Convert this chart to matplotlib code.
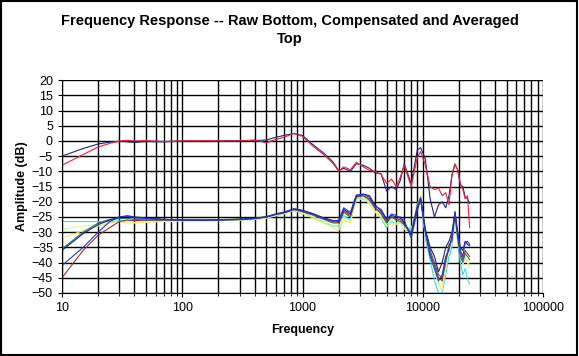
import matplotlib.pyplot as plt
import matplotlib.ticker as mticker
from matplotlib.patches import Rectangle

plt.rcParams['font.family'] = ['Liberation Sans', 'DejaVu Sans']

freq = [10, 15, 20, 25, 30, 35, 40, 50, 70, 100,
        150, 200, 300, 400, 500, 600, 700, 850, 1000, 1200, 1500, 1800,
        2000, 2200, 2500, 2800, 3200, 3600, 4000, 4500, 5000, 5500, 6000,
        6500, 7000, 8000, 9000, 9600, 10500, 11500, 12500, 13500, 14500,
        15500, 16500, 17500, 18500, 19500, 20500, 21500, 22500, 23500, 24500]

# raw bottom (top pair of curves)
raw_red = [-8, -4.5, -2, -0.8, 0, 0.2, 0, 0.1, -0.2, 0,
           0.1, 0, 0, 0.3, -0.6, 0.5, 1.2, 2.5, 1.5, -1.5, -4.5, -7.5,
           -10, -8.5, -9.5, -7, -8.5, -9.7, -10, -11, -14, -12.5, -15,
           -12, -8, -15, -5.5, -3.5, -8, -15, -16, -15.5, -18,
           -17, -21, -11, -7.5, -9.5, -14, -16, -19, -18, -28.5]
raw_navy = [-5, -2.5, -1, -0.4, -0.1, -0.3, -0.5, -0.2, -0.3, 0,
            -0.1, 0, 0.1, 0.1, 0.3, 1.2, 1.8, 2.4, 1.8, -1, -4, -7,
            -9.8, -9, -10, -7.5, -8, -9, -10.5, -10.8, -16.5, -15, -16,
            -13, -7.5, -14, -3, -2.2, -6, -19, -25, -21, -20,
            -22, -18, -11, -7.8, -9.5, -14.5, -15, -18.5, -19, -20.5]

# compensated and averaged top (lower group)
comp_navy = [-36, -30.5, -27.5, -26, -25, -24.6, -25, -25.3, -25.8, -26,
             -26, -25.9, -25.7, -25.4, -24.9, -24, -23.4, -22.3, -22.8, -23.8, -25.3, -26.2,
             -26.5, -22.5, -24, -18, -17.5, -18, -21, -23, -25.5, -24.5, -25,
             -25, -27, -31, -22, -19.5, -29, -35, -38, -43, -40,
             -35, -33, -30, -23.5, -30, -35, -36, -33, -34, -34.5]
comp_blue = [-41, -35, -30, -26.5, -25, -24.8, -25.3, -25.5, -25.8, -26,
             -26, -26, -25.8, -25.5, -25, -24.1, -23.5, -22.4, -23, -23.9, -25.4, -26.4,
             -26, -22, -23.5, -17.8, -17.5, -18.5, -21.5, -22.5, -26, -24, -24.5,
             -25.5, -26, -32, -23, -19, -30, -38, -42, -46, -44,
             -38, -36, -31, -23.2, -31, -36, -38, -33.5, -33, -34]
comp_teal = [-35.5, -30, -27, -25.8, -25.5, -25.5, -25.8, -26, -26, -26,
             -26.1, -26, -25.9, -25.6, -25.1, -24.2, -23.7, -22.6, -23.3, -24.3, -25.8, -27,
             -27, -23.5, -25, -18.5, -18, -19.5, -22, -24, -27, -25, -26,
             -26.5, -27.5, -30, -21, -18.5, -30, -36, -40, -44, -45,
             -40, -34, -33, -24, -32, -38, -40, -37, -38, -39]
comp_cyan = [-26.5, -26.5, -26.5, -26.5, -26.3, -26.3, -26.2, -26.2, -26.1, -26,
             -26.2, -26.2, -26, -25.8, -25.3, -24.5, -24, -22.9, -23.8, -25, -26.6, -28,
             -28, -24.5, -26, -19, -19, -20.5, -23, -25.5, -28.5, -26.5, -27,
             -27, -28, -29, -22, -19, -32, -39, -46, -50, -50,
             -44, -38, -35, -25, -33, -40, -44, -42, -45.5, -47]
comp_yellow = [-32, -29.5, -28, -27, -26.5, -27, -27, -26.8, -26.5, -26.3,
               -26.3, -26.2, -26, -25.8, -25.4, -24.6, -24, -22.8, -23.9, -25.2, -27, -28.5,
               -29.5, -26, -27, -19.5, -19, -20.5, -23.5, -25, -28, -27, -27.5,
               -26.5, -29, -30, -21, -18, -31, -37, -43, -47, -49,
               -42, -35, -34, -25, -30, -37, -41, -38, -39, -41]
comp_green = [-29, -28, -27.5, -27, -26.5, -26.5, -26.8, -26.5, -26.3, -26.2,
              -26.2, -26.1, -26, -25.7, -25.2, -24.4, -23.8, -22.7, -23.6, -24.8, -26.4, -27.8,
              -28.5, -25, -26.5, -19, -18.5, -20, -23, -25, -27.5, -26, -27,
              -27, -28.5, -29.5, -21.5, -18.8, -31, -37, -42, -46, -47,
              -41, -36, -34, -24.5, -31, -38, -40, -38.5, -40, -42]
comp_brown = [-45, -36, -31, -28.5, -26.5, -26, -26.2, -26, -26, -26,
              -26, -26, -25.8, -25.5, -25, -24.1, -23.6, -22.5, -23.2, -24.1, -25.6, -26.6,
              -26.8, -23, -24.5, -18.3, -18, -19, -22, -23.5, -26.5, -25, -25.5,
              -26, -27.2, -31, -22, -19, -30, -37, -41, -45, -46,
              -39, -35, -32, -23.8, -31, -37, -39, -36, -37, -38]

lower = [(comp_cyan, '#33ddee'), (comp_green, '#ccffaa'), (comp_yellow, '#eeee66'),
         (comp_teal, '#227777'), (comp_brown, '#993333'), (comp_navy, '#222277'),
         (comp_blue, '#2233dd')]

fig = plt.figure(figsize=(5.79, 3.56), dpi=100)
ax = fig.add_axes([0.107, 0.177, 0.831, 0.598])

for vals, col in lower:
    ax.plot(freq, vals, color=col, lw=0.8)
ax.plot(freq, raw_navy, color='#222288', lw=0.8)
ax.plot(freq, raw_red, color='#ee2233', lw=0.8)

ax.set_xscale('log')
ax.set_xlim(10, 100000)
ax.set_ylim(-50, 20)
ax.set_yticks(range(-50, 21, 5))
ax.xaxis.set_major_formatter(mticker.FuncFormatter(lambda v, p: '%d' % v))
ax.xaxis.set_minor_locator(mticker.LogLocator(base=10, subs=range(2, 10)))
ax.xaxis.set_minor_formatter(mticker.NullFormatter())
ax.grid(True, which='both', color='black', lw=1.0)
ax.set_axisbelow(True)
ax.tick_params(axis='both', which='major', labelsize=9, length=3, direction='out')
ax.tick_params(axis='x', which='minor', length=2)
for s in ['top', 'right']:
    ax.spines[s].set_visible(False)

ax.set_xlabel('Frequency', fontsize=9, fontweight='bold', labelpad=7)
ax.set_ylabel('Amplitude (dB)', fontsize=9, fontweight='bold', labelpad=3)
fig.text(0.5, 0.915, 'Frequency Response -- Raw Bottom, Compensated and Averaged\nTop',
         ha='center', va='center', fontsize=10.5, fontweight='bold', linespacing=1.35)

fig.patches.append(Rectangle((0.002, 0.003), 0.995, 0.994, transform=fig.transFigure,
                             fill=False, edgecolor='black', lw=1.5))

fig.savefig('out.png', dpi=100)
